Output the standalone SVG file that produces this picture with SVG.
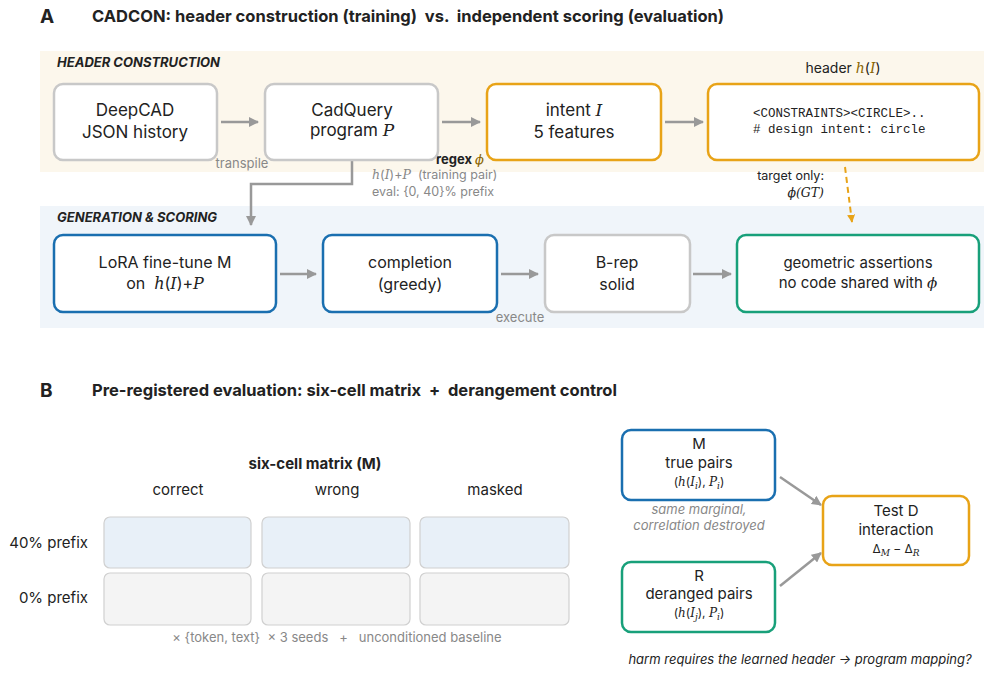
<svg xmlns="http://www.w3.org/2000/svg" width="997" height="698" viewBox="0 0 997 698">
<style>
text{font-family:Inter,"Noto Sans",sans-serif;fill:#222}
.t{text-anchor:middle}
.m{font-family:"DejaVu Serif",serif;font-style:italic}
.mono{font-family:"Liberation Mono","DejaVu Sans Mono",monospace}
.box{fill:#fff;stroke-width:2.5}
.g{stroke:#c8c8c8}.o{stroke:#e8a317}.b{stroke:#1a6fb0}.gr{stroke:#18a07a}
.lbl{fill:#888}
.ln{stroke:#999;stroke-width:2.5;fill:none}
.cell{stroke:#d0d0d0;stroke-width:1.2}
</style>
<defs>
<marker id="ah" viewBox="0 0 10 10" refX="9" refY="5" markerWidth="4" markerHeight="4" orient="auto"><path d="M0,0L10,5L0,10z" fill="#999"/></marker>
<marker id="ao" viewBox="0 0 10 10" refX="9" refY="5" markerWidth="4" markerHeight="4" orient="auto"><path d="M0,0L10,5L0,10z" fill="#e8a317"/></marker>
</defs>
<rect width="997" height="698" fill="#fff"/>
<text x="40" y="23" font-size="19" font-weight="bold">A</text>
<text x="92" y="22" font-size="16.5" font-weight="bold" fill="#333" xml:space="preserve">CADCON: header construction (training)  vs.  independent scoring (evaluation)</text>
<rect x="40" y="51" width="944" height="121" fill="#fcf7ec"/>
<rect x="40" y="206" width="944" height="122" fill="#f0f5fa"/>
<text x="57" y="67" font-size="13" font-weight="bold" font-style="italic" fill="#8a6500">HEADER CONSTRUCTION</text>
<text x="57" y="222" font-size="13" font-weight="bold" font-style="italic" fill="#145f9a">GENERATION &amp; SCORING</text>

<g id="connectors">
<line x1="221" y1="122" x2="258" y2="122" class="ln" marker-end="url(#ah)"/>
<line x1="442" y1="122" x2="480" y2="122" class="ln" marker-end="url(#ah)"/>
<line x1="665" y1="122" x2="703" y2="122" class="ln" marker-end="url(#ah)"/>
<path d="M352,160V184H251V225" class="ln" marker-end="url(#ah)"/>
<line x1="280" y1="274" x2="316" y2="274" class="ln" marker-end="url(#ah)"/>
<line x1="501" y1="274" x2="538" y2="274" class="ln" marker-end="url(#ah)"/>
<line x1="693" y1="274" x2="731" y2="274" class="ln" marker-end="url(#ah)"/>
<line x1="845" y1="167" x2="852" y2="222" stroke="#e8a317" stroke-width="2" stroke-dasharray="6,4" marker-end="url(#ao)"/>
<line x1="780" y1="477" x2="821" y2="505" class="ln" stroke-width="2" marker-end="url(#ah)"/>
<line x1="780" y1="586" x2="821" y2="553" class="ln" stroke-width="2" marker-end="url(#ah)"/>
<text x="242" y="168" font-size="13" class="lbl" text-anchor="middle">transpile</text>
<text x="436" y="164" font-size="13" font-weight="bold" fill="#8a6500">regex <tspan class="m" fill="#8a6500" font-weight="normal">ϕ</tspan></text>
<text x="372" y="179" font-size="12.5" class="lbl" xml:space="preserve"><tspan class="m" fill="#888">h</tspan>(<tspan class="m" fill="#888">I</tspan>)+<tspan class="m" fill="#888">P</tspan>  (training pair)</text>
<text x="372" y="196" font-size="12.5" class="lbl">eval: {0, 40}% prefix</text>
<text x="520" y="322" font-size="13" class="lbl" text-anchor="middle">execute</text>
<text x="824" y="180" font-size="12.5" fill="#8a6500" text-anchor="end">target only:</text>
<text x="824" y="197" font-size="12.5" fill="#8a6500" text-anchor="end" class="m">ϕ(GT)</text>
<text x="843" y="73" font-size="14" fill="#8a6500" text-anchor="middle">header <tspan class="m" fill="#8a6500">h</tspan>(<tspan class="m" fill="#8a6500">I</tspan>)</text>
</g>

<g id="deepcad"><rect x="54" y="84" width="163" height="76" rx="9" class="box g"/><text x="135" y="116" font-size="17" class="t">DeepCAD</text><text x="135" y="138" font-size="17" class="t">JSON history</text></g>
<g id="cadquery"><rect x="265" y="84" width="173" height="76" rx="9" class="box g"/><text x="352" y="116" font-size="17" class="t">CadQuery</text><text x="352" y="136" font-size="17" class="t">program <tspan class="m">P</tspan></text></g>
<g id="intent"><rect x="487" y="84" width="174" height="76" rx="9" class="box o"/><text x="574" y="116" font-size="17" class="t">intent <tspan class="m">I</tspan></text><text x="574" y="138" font-size="17" class="t">5 features</text></g>
<g id="header"><rect x="708" y="84" width="271" height="76" rx="9" class="box o"/><text x="753" y="117" font-size="12.5" class="mono" fill="#444">&lt;CONSTRAINTS&gt;&lt;CIRCLE&gt;..</text><text x="753" y="133" font-size="12.5" class="mono" fill="#444"># design intent: circle</text></g>

<g id="lora"><rect x="54" y="235" width="222" height="77" rx="9" class="box b"/><text x="165" y="268" font-size="16" class="t">LoRA fine-tune M</text><text x="165" y="289" font-size="16" class="t" xml:space="preserve">on  <tspan class="m">h</tspan>(<tspan class="m">I</tspan>)+<tspan class="m">P</tspan></text></g>
<g id="completion"><rect x="323" y="235" width="174" height="77" rx="9" class="box b"/><text x="410" y="268" font-size="16" class="t">completion</text><text x="410" y="290" font-size="16" class="t">(greedy)</text></g>
<g id="brep"><rect x="545" y="235" width="145" height="77" rx="9" class="box g"/><text x="617" y="268" font-size="16" class="t">B-rep</text><text x="617" y="290" font-size="16" class="t">solid</text></g>
<g id="geom"><rect x="737" y="235" width="242" height="77" rx="9" class="box gr"/><text x="858" y="268" font-size="15" class="t">geometric assertions</text><text x="858" y="288" font-size="15" class="t">no code shared with <tspan class="m">ϕ</tspan></text></g>

<text x="40" y="397" font-size="19" font-weight="bold">B</text>
<text x="92" y="396" font-size="16.5" font-weight="bold" fill="#333" xml:space="preserve">Pre-registered evaluation: six-cell matrix  +  derangement control</text>
<g id="matrix">
<text x="315" y="469" font-size="15" font-weight="bold" text-anchor="middle">six-cell matrix (M)</text>
<text x="178" y="495" font-size="15" class="t" fill="#333">correct</text>
<text x="337" y="495" font-size="15" class="t" fill="#333">wrong</text>
<text x="495" y="495" font-size="15" class="t" fill="#333">masked</text>
<text x="88" y="548" font-size="15" text-anchor="end" fill="#333">40% prefix</text>
<text x="88" y="603" font-size="15" text-anchor="end" fill="#333">0% prefix</text>
<rect x="104" y="517" width="147" height="51" rx="6" fill="#e8f0f8" class="cell"/>
<rect x="262" y="517" width="148" height="51" rx="6" fill="#e8f0f8" class="cell"/>
<rect x="420" y="517" width="149" height="51" rx="6" fill="#e8f0f8" class="cell"/>
<rect x="104" y="573" width="147" height="52" rx="6" fill="#f4f4f4" class="cell"/>
<rect x="262" y="573" width="148" height="52" rx="6" fill="#f4f4f4" class="cell"/>
<rect x="420" y="573" width="149" height="52" rx="6" fill="#f4f4f4" class="cell"/>
<text x="337" y="642" font-size="13" class="lbl" text-anchor="middle" xml:space="preserve">× {token, text}  × 3 seeds   +   unconditioned baseline</text>
</g>
<g id="M"><rect x="622" y="430" width="153" height="70" rx="9" class="box b"/><text x="699" y="449" class="t" font-size="15">M</text><text x="699" y="468" class="t" font-size="15">true pairs</text><text x="699" y="486" class="t" font-size="12">(<tspan class="m">h</tspan>(<tspan class="m">I</tspan><tspan class="m" font-size="9" dy="3">i</tspan><tspan dy="-3">), </tspan><tspan class="m">P</tspan><tspan class="m" font-size="9" dy="3">i</tspan><tspan dy="-3">)</tspan></text></g>
<text x="699" y="514" font-size="13" class="lbl" font-style="italic" text-anchor="middle" fill="#999">same marginal,</text>
<text x="699" y="530" font-size="13" class="lbl" font-style="italic" text-anchor="middle" fill="#999">correlation destroyed</text>
<g id="R"><rect x="622" y="562" width="153" height="70" rx="9" class="box gr"/><text x="699" y="581" class="t" font-size="15">R</text><text x="699" y="599" class="t" font-size="15">deranged pairs</text><text x="699" y="617" class="t" font-size="12">(<tspan class="m">h</tspan>(<tspan class="m">I</tspan><tspan class="m" font-size="9" dy="3">j</tspan><tspan dy="-3">), </tspan><tspan class="m">P</tspan><tspan class="m" font-size="9" dy="3">i</tspan><tspan dy="-3">)</tspan></text></g>
<g id="testD"><rect x="823" y="496" width="146" height="69" rx="9" class="box o"/><text x="896" y="516" class="t" font-size="15">Test D</text><text x="896" y="535" class="t" font-size="15">interaction</text><text x="896" y="553" class="t" font-size="12">Δ<tspan class="m" font-size="9" dy="3">M</tspan><tspan dy="-3"> − Δ</tspan><tspan class="m" font-size="9" dy="3">R</tspan></text></g>
<text x="800" y="664" font-size="13" font-style="italic" text-anchor="middle" fill="#444">harm requires the learned header → program mapping?</text>
</svg>
